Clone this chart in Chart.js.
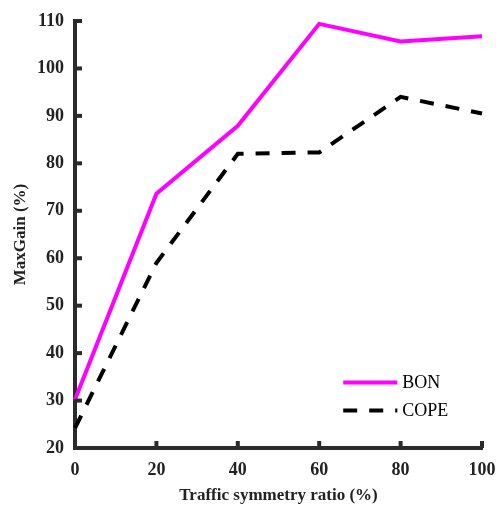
<!DOCTYPE html>
<html>
<head>
<meta charset="utf-8">
<script src="https://cdn.jsdelivr.net/npm/chart.js@4/dist/chart.umd.min.js"></script>
<style>
html,body{margin:0;padding:0;background:#fff;}
#wrap{width:496px;height:506px;position:relative;}
</style>
</head>
<body>
<div id="wrap"><canvas id="c" width="496" height="506"></canvas></div>
<script>
const xValues = [0, 20, 40, 60, 80, 100];
const bonValues = [30.2, 73.6, 87.9, 109.4, 105.7, 106.8];
const copeValues = [24.2, 59.0, 82.0, 82.3, 94.0, 90.5];
const seriesNames = ['BON', 'COPE'];
const yTicks = [20, 30, 40, 50, 60, 70, 80, 90, 100, 110];
const xTicks = [0, 20, 40, 60, 80, 100];

const AXIS_COLOR = '#2b2b2b';
const FONT = '"Liberation Serif", "Times New Roman", serif';

const innerTicks = {
  id: 'innerTicks',
  afterDatasetsDraw(chart) {
    const ctx = chart.ctx;
    const xs = chart.scales.x, ys = chart.scales.y;
    const area = chart.chartArea;
    ctx.save();
    ctx.strokeStyle = AXIS_COLOR;
    ctx.lineWidth = 4;
    ctx.lineCap = 'butt';
    yTicks.forEach(v => {
      const py = ys.getPixelForValue(v);
      ctx.beginPath();
      ctx.moveTo(area.left, py);
      ctx.lineTo(area.left + 7, py);
      ctx.stroke();
    });
    xTicks.forEach(v => {
      const px = xs.getPixelForValue(v);
      ctx.beginPath();
      ctx.moveTo(px, area.bottom);
      ctx.lineTo(px, area.bottom - 7);
      ctx.stroke();
    });
    ctx.restore();

    // legend
    const items = chart.data.datasets;
    const lx0 = xs.getPixelForValue(65.9), lx1 = xs.getPixelForValue(79.2);
    const ly0 = ys.getPixelForValue(33.8);
    const rowH = 28;
    ctx.save();
    ctx.font = '18px ' + FONT;
    ctx.textBaseline = 'middle';
    ctx.fillStyle = '#000';
    items.forEach((ds, i) => {
      const y = ly0 + i * rowH;
      ctx.beginPath();
      ctx.strokeStyle = ds.borderColor;
      ctx.lineWidth = ds.borderWidth;
      ctx.setLineDash(ds.borderDash || []);
      ctx.moveTo(lx0, y);
      ctx.lineTo(lx1, y);
      ctx.stroke();
      ctx.setLineDash([]);
      ctx.fillText(ds.label, lx1 + 5, y + 1);
    });
    ctx.restore();
  }
};

new Chart(document.getElementById('c'), {
  type: 'line',
  data: {
    datasets: [
      {
        label: seriesNames[0],
        data: xValues.map((x, i) => ({x: x, y: bonValues[i]})),
        borderColor: '#ff00ff',
        backgroundColor: '#ff00ff',
        borderWidth: 4,
        pointRadius: 0,
        tension: 0,
        fill: false,
        clip: false
      },
      {
        label: seriesNames[1],
        data: xValues.map((x, i) => ({x: x, y: copeValues[i]})),
        borderColor: '#000000',
        backgroundColor: '#000000',
        borderWidth: 4,
        borderDash: [14, 12],
        pointRadius: 0,
        tension: 0,
        fill: false,
        clip: false
      }
    ]
  },
  options: {
    responsive: false,
    animation: false,
    devicePixelRatio: 1,
    layout: { padding: { top: 21, right: 14, left: 0, bottom: 0 } },
    plugins: {
      legend: { display: false },
      tooltip: { enabled: false }
    },
    scales: {
      x: {
        type: 'linear',
        min: 0, max: 100,
        afterFit(scale) { scale.height = 58; scale.paddingRight = 0; scale.paddingLeft = 0; },
        afterBuildTicks(scale) { scale.ticks = xTicks.map(v => ({value: v})); },
        border: { display: true, color: AXIS_COLOR, width: 4 },
        grid: { display: false, drawTicks: false, tickLength: 0 },
        ticks: {
          color: '#222',
          font: { family: FONT, size: 18, weight: 'bold' },
          padding: 12,
          maxRotation: 0
        },
        title: {
          display: true,
          text: 'Traffic symmetry ratio (%)',
          color: '#222',
          font: { family: FONT, size: 17, weight: 'bold', lineHeight: 1.2 },
          padding: { top: 0, bottom: 0 }
        }
      },
      y: {
        type: 'linear',
        min: 20, max: 110,
        afterFit(scale) { scale.width = 75; scale.paddingTop = 0; scale.paddingBottom = 0; },
        afterBuildTicks(scale) { scale.ticks = yTicks.map(v => ({value: v})); },
        border: { display: true, color: AXIS_COLOR, width: 4 },
        grid: { display: false, drawTicks: false, tickLength: 0 },
        ticks: {
          color: '#222',
          font: { family: FONT, size: 18, weight: 'bold' },
          padding: 11
        },
        title: {
          display: true,
          text: 'MaxGain (%)',
          color: '#222',
          font: { family: FONT, size: 17, weight: 'bold', lineHeight: 1.2 },
          padding: { top: 10, bottom: 0 }
        }
      }
    }
  },
  plugins: [innerTicks]
});
</script>
</body>
</html>
